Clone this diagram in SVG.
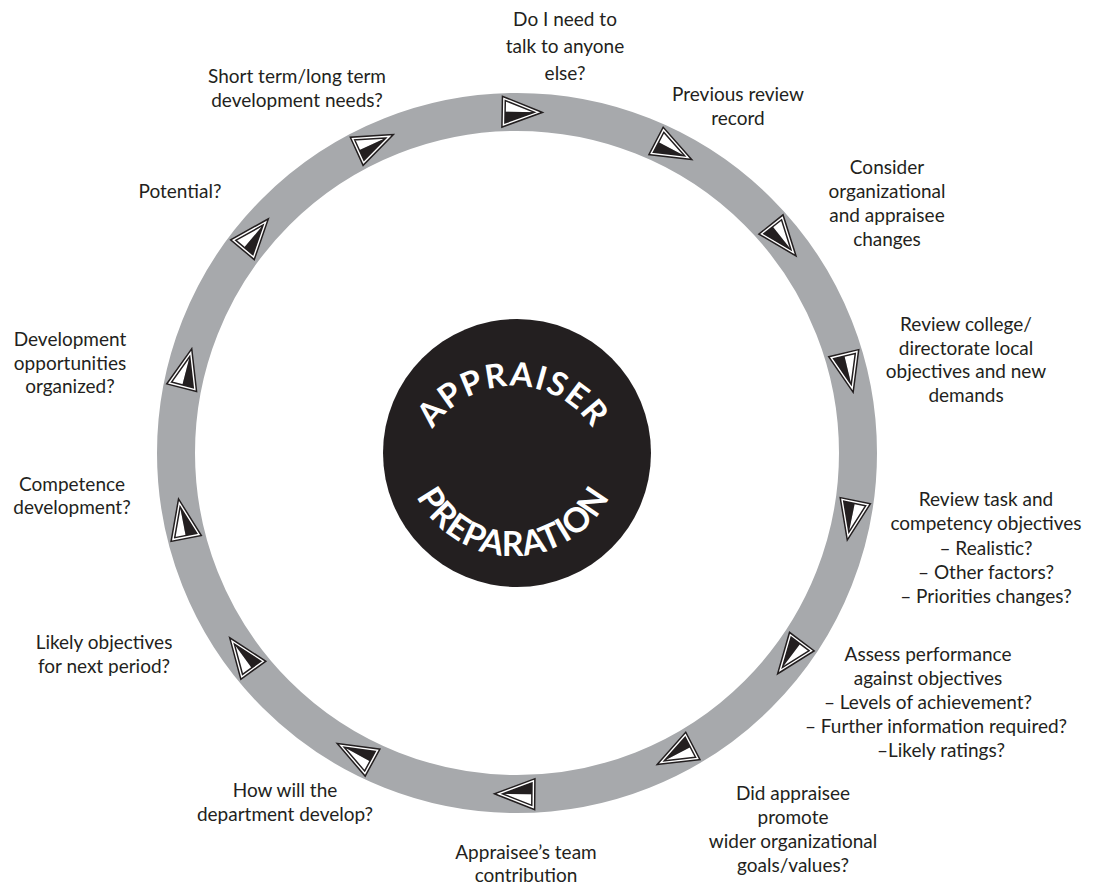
<svg xmlns="http://www.w3.org/2000/svg" width="1093" height="887" viewBox="0 0 1093 887">
<style>
.lbl{font-family:Lato,"Liberation Sans",sans-serif;font-size:19px;fill:#231f20;text-anchor:middle}
.ctr{font-family:Lato,"Liberation Sans",sans-serif;font-weight:700;fill:#fff}
</style>
<defs>
<g id="arr">
<polygon points="15.4,0 -19.3,-13.3 -19.3,0" fill="#fff"/>
<polygon points="15.4,0 -19.3,0 -19.3,13.3" fill="#231f20"/>
<polygon points="15.4,0 -19.3,-13.3 -19.3,13.3" fill="none" stroke="#231f20" stroke-width="4.4"/>
<polygon points="15.4,0 -19.3,-13.3 -19.3,13.3" fill="none" stroke="#fff" stroke-width="1.4"/>
</g>
<path id="arcTop" d="M 417,482 A 96 96 0 0 1 609,482"/>
<path id="arcBot" d="M 405,448 A 108 108 0 0 0 621,448"/>
</defs>
<rect width="1093" height="887" fill="#fff"/>
<g id="connectors">
<circle cx="517" cy="453" r="341" fill="none" stroke="#a7a9ac" stroke-width="38"/>
</g>
<g id="center">
<circle cx="517" cy="453" r="134" fill="#231f20"/>
<text class="ctr" font-size="33" letter-spacing="1.5"><textPath href="#arcTop" startOffset="50%" text-anchor="middle">APPRAISER</textPath></text>
<text class="ctr" font-size="34" letter-spacing="0.5"><textPath href="#arcBot" startOffset="50%" text-anchor="middle">PREPARATION</textPath></text>
</g>
<g id="step1"><use href="#arr" transform="translate(522.95,112.05) rotate(1)"/>
<text class="lbl"><tspan x="565" y="26">Do I need to</tspan><tspan x="565" y="53">talk to anyone</tspan><tspan x="565" y="80">else?</tspan></text></g>
<g id="step2"><use href="#arr" transform="translate(674.46,150.53) rotate(27.5)"/>
<text class="lbl"><tspan x="738" y="101">Previous review</tspan><tspan x="738" y="125">record</tspan></text></g>
<g id="step3"><use href="#arr" transform="translate(783.87,240.72) rotate(51.5)"/>
<text class="lbl"><tspan x="887" y="174">Consider</tspan><tspan x="887" y="198">organizational</tspan><tspan x="887" y="222">and appraisee</tspan><tspan x="887" y="246">changes</tspan></text></g>
<g id="step4"><use href="#arr" transform="translate(848.58,373.39) rotate(76.5)"/>
<text class="lbl"><tspan x="966" y="331">Review college/</tspan><tspan x="966" y="355">directorate local</tspan><tspan x="966" y="378">objectives and new</tspan><tspan x="966" y="402">demands</tspan></text></g>
<g id="step5"><use href="#arr" transform="translate(851.15,520.99) rotate(101.5)"/>
<text class="lbl"><tspan x="986" y="506">Review task and</tspan><tspan x="986" y="530">competency objectives</tspan><tspan x="986" y="555">– Realistic?</tspan><tspan x="986" y="579">– Other factors?</tspan><tspan x="986" y="603">– Priorities changes?</tspan></text></g>
<g id="step6"><use href="#arr" transform="translate(789.34,658.22) rotate(127)"/>
<text class="lbl"><tspan x="928" y="661">Assess performance</tspan><tspan x="928" y="685">against objectives</tspan><tspan x="928" y="709">– Levels of achievement?</tspan><tspan x="936" y="733">– Further information required?</tspan><tspan x="941" y="757">–Likely ratings?</tspan></text></g>
<g id="step7"><use href="#arr" transform="translate(674.46,755.47) rotate(152.5)"/>
<text class="lbl"><tspan x="793" y="800">Did appraisee</tspan><tspan x="793" y="824">promote</tspan><tspan x="793" y="848">wider organizational</tspan><tspan x="793" y="872">goals/values?</tspan></text></g>
<g id="step8"><use href="#arr" transform="translate(514.02,793.99) rotate(180.5)"/>
<text class="lbl"><tspan x="526" y="859">Appraisee’s team</tspan><tspan x="526" y="882">contribution</tspan></text></g>
<g id="step9"><use href="#arr" transform="translate(354.29,752.68) rotate(208.5)"/>
<text class="lbl"><tspan x="285" y="797">How will the</tspan><tspan x="285" y="821">department develop?</tspan></text></g>
<g id="step10"><use href="#arr" transform="translate(241.13,653.44) rotate(234)"/>
<text class="lbl"><tspan x="104" y="649">Likely objectives</tspan><tspan x="104" y="673">for next period?</tspan></text></g>
<g id="step11"><use href="#arr" transform="translate(182.26,518.07) rotate(259)"/>
<text class="lbl"><tspan x="72" y="491">Competence</tspan><tspan x="72" y="514">development?</tspan></text></g>
<g id="step12"><use href="#arr" transform="translate(186.86,367.62) rotate(284.5)"/>
<text class="lbl"><tspan x="70" y="346">Development</tspan><tspan x="70" y="370">opportunities</tspan><tspan x="70" y="393">organized?</tspan></text></g>
<g id="step13"><use href="#arr" transform="translate(255.78,233.81) rotate(310)"/>
<text class="lbl"><tspan x="180" y="198">Potential?</tspan></text></g>
<g id="step14"><use href="#arr" transform="translate(375.59,142.7) rotate(335.5)"/>
<text class="lbl"><tspan x="297" y="83">Short term/long term</tspan><tspan x="297" y="107">development needs?</tspan></text></g>
</svg>
